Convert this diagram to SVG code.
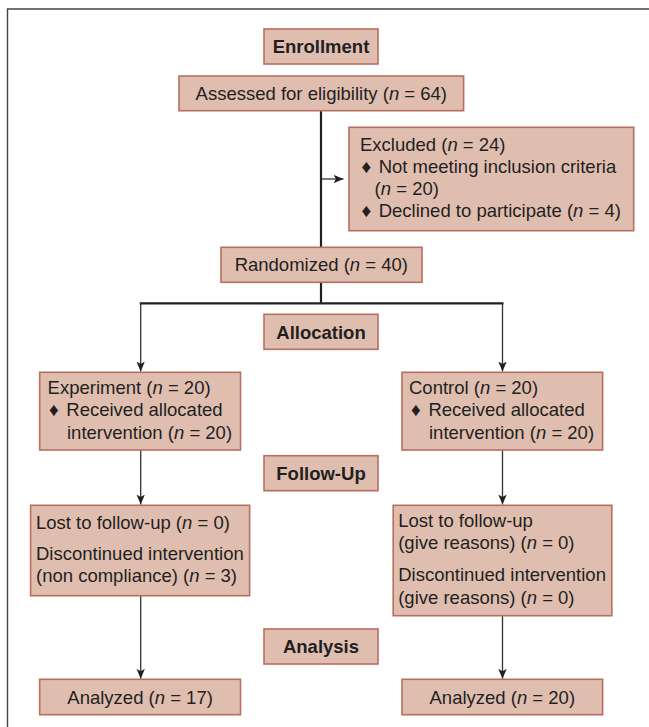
<svg xmlns="http://www.w3.org/2000/svg" width="649" height="727" viewBox="0 0 649 727">
<defs>
<style>
.box{fill:#dfbeb0;stroke:#b86f5e;stroke-width:1.6}
text{font-family:"Liberation Sans",Arial,sans-serif;font-size:18.5px;fill:#231f20}
.b{font-weight:bold}
.c{text-anchor:middle}
.dia{font-size:19px}
.i{font-style:italic}
.thick{stroke:#231f20;stroke-width:2.2;fill:none}
.thin{stroke:#333;stroke-width:1.3;fill:none}
</style>
<marker id="ah" markerUnits="userSpaceOnUse" markerWidth="10" markerHeight="10" viewBox="0 0 10 10" refX="10" refY="5" orient="auto">
<path d="M0,0.8 L10,5 L0,9.2 L2.5,5 z" fill="#231f20"/>
</marker>
</defs>
<rect width="649" height="727" fill="#fff"/>
<path d="M7.5,727 V9 H649" fill="none" stroke="#444" stroke-width="1.4"/>

<g id="connectors">
<path class="thick" d="M321,110.7 V247"/>
<path class="thin" d="M321,179 H343.5" marker-end="url(#ah)"/>
<path class="thick" d="M321,282 V303.3 M139.7,303.3 H503.5"/>
<path class="thin" d="M140.7,303.3 V371.5" marker-end="url(#ah)"/>
<path class="thin" d="M502.5,303.3 V371.5" marker-end="url(#ah)"/>
<path class="thin" d="M140.7,450 V504.5" marker-end="url(#ah)"/>
<path class="thin" d="M502.5,450 V504.5" marker-end="url(#ah)"/>
<path class="thin" d="M140.7,595.7 V678.8" marker-end="url(#ah)"/>
<path class="thin" d="M502.5,615.7 V678.8" marker-end="url(#ah)"/>
</g>

<g id="enrollment">
<rect class="box" x="264" y="29" width="114" height="35"/>
<text class="b c" x="321" y="53">Enrollment</text>
</g>

<g id="assessed">
<rect class="box" x="179" y="76" width="284.6" height="34.7"/>
<text class="c" x="321.3" y="100">Assessed for eligibility (<tspan class="i">n</tspan> = 64)</text>
</g>

<g id="excluded">
<rect class="box" x="349" y="127.3" width="284.7" height="103.4"/>
<text x="360" y="151">Excluded (<tspan class="i">n</tspan> = 24)</text>
<text class="dia" x="361.5" y="173">♦</text>
<text x="378.7" y="173">Not meeting inclusion criteria</text>
<text x="374.6" y="195">(<tspan class="i">n</tspan> = 20)</text>
<text class="dia" x="361.5" y="217">♦</text>
<text x="378.7" y="217">Declined to participate (<tspan class="i">n</tspan> = 4)</text>
</g>

<g id="randomized">
<rect class="box" x="221" y="247.3" width="201" height="35"/>
<text class="c" x="321.3" y="271">Randomized (<tspan class="i">n</tspan> = 40)</text>
</g>

<g id="allocation">
<rect class="box" x="264" y="314.3" width="114" height="35"/>
<text class="b c" x="321" y="338.5">Allocation</text>
</g>

<g id="experiment">
<rect class="box" x="39.7" y="372.3" width="200.8" height="77.7"/>
<text x="47.6" y="393.5">Experiment (<tspan class="i">n</tspan> = 20)</text>
<text class="dia" x="49" y="416">♦</text>
<text x="66.3" y="416">Received allocated</text>
<text x="67" y="438.5">intervention (<tspan class="i">n</tspan> = 20)</text>
</g>

<g id="control">
<rect class="box" x="402" y="372.3" width="200.6" height="77.7"/>
<text x="409" y="393.5">Control (<tspan class="i">n</tspan> = 20)</text>
<text class="dia" x="411" y="416">♦</text>
<text x="428.4" y="416">Received allocated</text>
<text x="429" y="438.5">intervention (<tspan class="i">n</tspan> = 20)</text>
</g>

<g id="followup">
<rect class="box" x="264" y="455.7" width="114" height="35"/>
<text class="b c" x="321" y="480">Follow-Up</text>
</g>

<g id="lost-experiment">
<rect class="box" x="30.6" y="505.3" width="219" height="90.4"/>
<text x="36" y="528.5">Lost to follow-up (<tspan class="i">n</tspan> = 0)</text>
<text x="36" y="560">Discontinued intervention</text>
<text x="36" y="582">(non compliance) (<tspan class="i">n</tspan> = 3)</text>
</g>

<g id="lost-control">
<rect class="box" x="393.2" y="505.3" width="218.6" height="110.4"/>
<text x="398.2" y="527">Lost to follow-up</text>
<text x="398.2" y="548.5">(give reasons) (<tspan class="i">n</tspan> = 0)</text>
<text x="398.2" y="581">Discontinued intervention</text>
<text x="398.2" y="603.5">(give reasons) (<tspan class="i">n</tspan> = 0)</text>
</g>

<g id="analysis">
<rect class="box" x="264" y="629" width="114" height="35"/>
<text class="b c" x="321" y="653">Analysis</text>
</g>

<g id="analyzed-experiment">
<rect class="box" x="39.7" y="679.3" width="200.8" height="35.4"/>
<text class="c" x="140.1" y="703.5">Analyzed (<tspan class="i">n</tspan> = 17)</text>
</g>

<g id="analyzed-control">
<rect class="box" x="402" y="679.3" width="200.6" height="35.4"/>
<text class="c" x="502.3" y="703.5">Analyzed (<tspan class="i">n</tspan> = 20)</text>
</g>
</svg>
